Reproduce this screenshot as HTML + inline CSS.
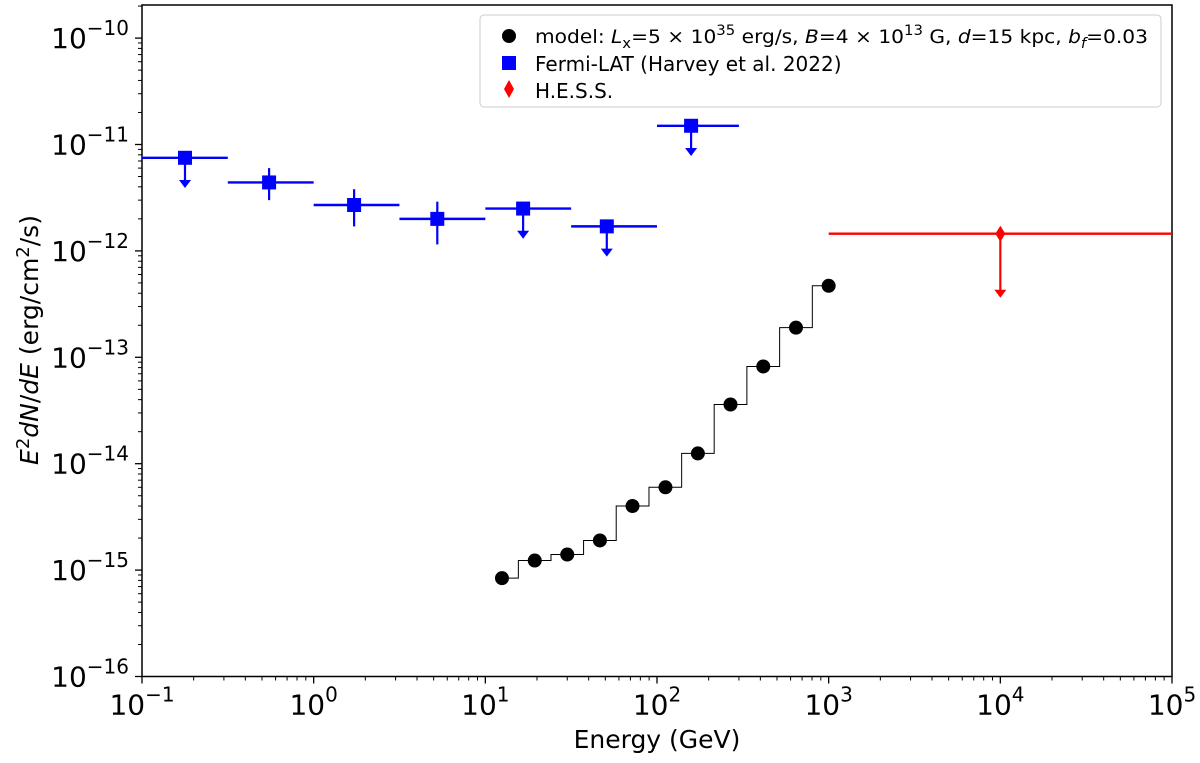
<!DOCTYPE html>
<html><head><meta charset="utf-8"><style>
body{margin:0;background:#fff;}
svg text{font-family:"DejaVu Sans","Liberation Sans",sans-serif;}
</style></head><body>
<svg id="chart" width="1200" height="758" xmlns="http://www.w3.org/2000/svg"></svg>
<script>
const modelE=[12.5,19.4,30,46.5,72,112,173,268,416,645,1000];
const modelF=[8.4e-16,1.23e-15,1.4e-15,1.9e-15,4.0e-15,6.0e-15,1.25e-14,3.6e-14,8.2e-14,1.9e-13,4.7e-13];
const fermiE=[0.178,0.55,1.72,5.25,16.6,51,158];
const fermiLoEdge=[0.1,0.316,1,3.16,10,31.6,100];
const fermiHiEdge=[0.316,1,3.16,10,31.6,100,300];
const fermiF=[7.5e-12,4.4e-12,2.7e-12,2.0e-12,2.5e-12,1.7e-12,1.5e-11];
const fermiErrHi=[null,6.0e-12,3.8e-12,2.9e-12,null,null,null];
const fermiErrLo=[null,3.0e-12,1.7e-12,1.15e-12,null,null,null];
const fermiUL=[true,false,false,false,true,true,true];
const hessE=[1e4];const hessLo=[1e3];const hessHi=[1e5];const hessF=[1.45e-12];
const xTicks=[-1,0,1,2,3,4,5];
const yTicks=[-16,-15,-14,-13,-12,-11,-10];

const NS="http://www.w3.org/2000/svg";
const svg=document.getElementById('chart');
const X0=142,X1=1172,YT=5,YB=676.5;
const xs=e=>X0+(Math.log10(e)+1)*(X1-X0)/6;
const ys=f=>YB-(Math.log10(f)+16)*106.4;
function mk(t,a,p){const e=document.createElementNS(NS,t);for(const k in a)e.setAttribute(k,a[k]);(p||svg).appendChild(e);return e;}
const box=mk('rect',{x:X0,y:YT,width:X1-X0,height:YB-YT,fill:'none',stroke:'#000','stroke-width':1.5});


xTicks.forEach(p=>{
 const x=xs(Math.pow(10,p));
 mk('line',{x1:x,x2:x,y1:YB,y2:YB+7,stroke:'#000','stroke-width':1.3});
 if(p<5)for(let m=2;m<10;m++){const xm=xs(m*Math.pow(10,p));mk('line',{x1:xm,x2:xm,y1:YB,y2:YB+4,stroke:'#000','stroke-width':1});}
 const t=mk('text',{x:x,y:YB+38,'font-size':28,'text-anchor':'middle'});
 
 
 t.innerHTML='10<tspan dy="-13" font-size="20">'+(p<0?'\u2212'+(-p):p)+'</tspan>';
});
yTicks.forEach(p=>{
 const y=ys(Math.pow(10,p));
 mk('line',{x1:X0-7,x2:X0,y1:y,y2:y,stroke:'#000','stroke-width':1.3});
 for(let m=2;m<10;m++){const ym=ys(m*Math.pow(10,p));if(ym>=YT)mk('line',{x1:X0-4,x2:X0,y1:ym,y2:ym,stroke:'#000','stroke-width':1});}
 const t=mk('text',{x:X0-13,y:y+10,'font-size':28,'text-anchor':'end'});
 
 
 t.innerHTML='10<tspan dy="-13" font-size="20">\u2212'+(-p)+'</tspan>';
});
const xl=mk('text',{x:(X0+X1)/2,y:748,'font-size':25,'text-anchor':'middle'});


xl.textContent='Energy (GeV)';
const yl=mk('text',{x:0,y:0,'font-size':25,'text-anchor':'middle',transform:'translate(38,340) rotate(-90)'});


yl.innerHTML='<tspan font-style="italic">E</tspan><tspan dy="-9" font-size="18">2</tspan><tspan dy="9" font-style="italic">dN</tspan>/<tspan font-style="italic">dE</tspan> (erg/cm<tspan dy="-9" font-size="18">2</tspan><tspan dy="9">/s)</tspan>';
let d='M'+xs(modelE[0])+','+ys(modelF[0]);
for(let i=1;i<modelE.length;i++){
 const xm=xs(Math.sqrt(modelE[i-1]*modelE[i]));
 d+=' H'+xm+' V'+ys(modelF[i]);
}
d+=' H'+xs(modelE[modelE.length-1]);
const st=mk('path',{d:d,fill:'none',stroke:'#000','stroke-width':1});


modelE.forEach((e,i)=>{
 const c=mk('circle',{cx:xs(e),cy:ys(modelF[i]),r:7,fill:'#000'});
 
 
});
function arrow(x,y1,y2,col,g){
 mk('line',{x1:x,x2:x,y1:y1,y2:y2-6,stroke:col,'stroke-width':2.2},g);
 mk('path',{d:`M${x-6},${y2-8} L${x+6},${y2-8} L${x},${y2} Z`,fill:col},g);
}
fermiE.forEach((e,i)=>{
 const x=xs(e),y=ys(fermiF[i]);
 const g=mk('g',{});
 
 
 mk('line',{x1:xs(fermiLoEdge[i]),x2:xs(fermiHiEdge[i]),y1:y,y2:y,stroke:'#0000ff','stroke-width':2.4},g);
 if(fermiUL[i]){arrow(x,y,ys(fermiF[i]*0.52),'#0000ff',g);}
 else mk('line',{x1:x,x2:x,y1:ys(fermiErrHi[i]),y2:ys(fermiErrLo[i]),stroke:'#0000ff','stroke-width':2.2},g);
 mk('rect',{x:x-7,y:y-7,width:14,height:14,fill:'#0000ff'},g);
});
hessE.forEach((e,i)=>{
 const x=xs(e),y=ys(hessF[i]);
 const g=mk('g',{});
 
 
 mk('line',{x1:xs(hessLo[i]),x2:Math.min(X1,xs(hessHi[i])),y1:y,y2:y,stroke:'#ff0000','stroke-width':2.4},g);
 arrow(x,y,ys(hessF[i]*0.25),'#ff0000',g);
 mk('path',{d:`M${x},${y-8} L${x+5},${y} L${x},${y+8} L${x-5},${y} Z`,fill:'#ff0000'},g);
});
const lg=mk('g',{});


mk('rect',{x:480,y:15,width:681,height:92,rx:4,fill:'#fff',stroke:'#ccc','stroke-width':1},lg);
mk('circle',{cx:509,cy:36,r:7,fill:'#000'},lg);
mk('rect',{x:502,y:56,width:14,height:14,fill:'#0000ff'},lg);
mk('path',{d:'M509,80 L514,89 L509,98 L504,89 Z',fill:'#ff0000'},lg);
const l1=mk('text',{x:535,y:43,'font-size':19,textLength:613,lengthAdjust:'spacingAndGlyphs'},lg);
l1.innerHTML='model: <tspan font-style="italic">L</tspan><tspan dy="5" font-size="14">x</tspan><tspan dy="-5">=5 × 10</tspan><tspan dy="-8" font-size="14">35</tspan><tspan dy="8"> erg/s, </tspan><tspan font-style="italic">B</tspan>=4 × 10<tspan dy="-8" font-size="14">13</tspan><tspan dy="8"> G, </tspan><tspan font-style="italic">d</tspan>=15 kpc, <tspan font-style="italic">b</tspan><tspan dy="5" font-size="14" font-style="italic">f</tspan><tspan dy="-5">=0.03</tspan>';
const l2=mk('text',{x:535,y:71,'font-size':20},lg);l2.textContent='Fermi-LAT (Harvey et al. 2022)';
const l3=mk('text',{x:535,y:98,'font-size':20},lg);l3.textContent='H.E.S.S.';
</script>
</body></html>
